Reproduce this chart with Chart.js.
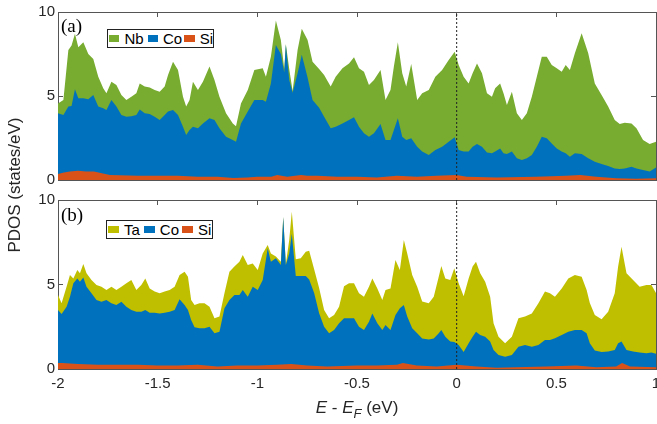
<!DOCTYPE html>
<html lang="en">
<head>
<meta charset="UTF-8">
<title>PDOS</title>
<script src="https://cdn.jsdelivr.net/npm/chart.js"></script>
<style>
  body { margin: 0; background: #fff; font-family: "Liberation Sans", Arial, sans-serif; }
  #wrap { position: relative; width: 657px; height: 424px; overflow: hidden; }
  canvas { position: absolute; left: 0; top: 0; }
  .panel { position: absolute; font-family: "Liberation Serif", serif; font-size: 19px; line-height: 19px; color: #000; }
  .legend { position: absolute; box-sizing: border-box; height: 19px; border: 1px solid #222; background: #fff;
            font-size: 15px; color: #000; display: flex; align-items: center; padding-left: 1px; }
  .sw { display: inline-block; width: 11px; height: 7px; margin-right: 5px; }
  #ytitle { position: absolute; left: -85px; top: 175px; width: 200px; height: 20px; line-height: 20px;
            text-align: center; font-size: 17px; color: #262626; transform: rotate(-90deg); }
  #xtitle { position: absolute; left: 257px; top: 398px; width: 200px; height: 20px; line-height: 20px;
            text-align: center; font-size: 17px; color: #262626; }
  #xtitle sub { font-size: 13px; font-style: italic; vertical-align: -5px; }
</style>
</head>
<body>
<div id="wrap">
  <canvas id="chartA" width="657" height="424"></canvas>
  <canvas id="chartB" width="657" height="424"></canvas>
  <div class="panel" style="left:61px;top:16px">(a)</div>
  <div class="panel" style="left:61px;top:205px">(b)</div>
  <div class="legend" id="legA" style="left:107px;top:29px;width:107px"></div>
  <div class="legend" id="legB" style="left:106px;top:220px;width:107px"></div>
  <div id="ytitle">PDOS (states/eV)</div>
  <div id="xtitle"><i>E</i> - <i>E</i><sub>F</sub> (eV)</div>
</div>

<script>
// ---- panel (a): NbCoSi, cumulative edges of the stacked areas ----
const energyA = [
  -2.0, -1.973, -1.948, -1.932, -1.915, -1.898, -1.873, -1.848, -1.823, -1.798,
  -1.773, -1.757, -1.732, -1.707, -1.682, -1.657, -1.632, -1.607, -1.59, -1.565,
  -1.54, -1.515, -1.49, -1.465, -1.448, -1.423, -1.398, -1.373, -1.357, -1.34,
  -1.323, -1.298, -1.273, -1.24, -1.215, -1.19, -1.157, -1.123, -1.107, -1.082,
  -1.048, -1.015, -0.973, -0.957, -0.932, -0.907, -0.882, -0.865, -0.857, -0.84,
  -0.823, -0.798, -0.777, -0.748, -0.723, -0.69, -0.665, -0.632, -0.607, -0.573,
  -0.54, -0.515, -0.49, -0.465, -0.44, -0.415, -0.382, -0.357, -0.332, -0.315,
  -0.295, -0.273, -0.253, -0.228, -0.198, -0.173, -0.14, -0.107, -0.073, -0.04,
  -0.01, 0.01, 0.035, 0.06, 0.08, 0.102, 0.127, 0.152, 0.177, 0.193,
  0.218, 0.235, 0.252, 0.277, 0.302, 0.327, 0.352, 0.377, 0.402, 0.427,
  0.452, 0.477, 0.502, 0.527, 0.547, 0.568, 0.593, 0.627, 0.66, 0.693,
  0.727, 0.76, 0.793, 0.818, 0.843, 0.877, 0.902, 0.935, 0.968, 1.0
];
// top of the whole stack (Si + Co + Nb)
const totalA = [
  4.56, 4.76, 7.74, 8.0, 8.7, 7.9, 8.2, 7.5, 7.2, 6.15,
  5.46, 5.16, 5.85, 5.65, 5.06, 4.76, 4.96, 5.16, 5.75, 5.56,
  5.5, 5.36, 5.26, 5.56, 6.25, 7.04, 6.55, 4.96, 4.37, 4.76,
  5.85, 5.36, 5.85, 6.75, 5.95, 4.96, 3.97, 3.37, 3.2, 4.56,
  5.36, 6.55, 6.65, 6.15, 7.34, 9.5, 8.33, 6.6, 8.1, 6.6,
  5.3, 7.74, 9.0, 8.33, 7.04, 6.6, 6.25, 5.56, 6.15, 6.65,
  6.94, 7.3, 6.65, 6.45, 5.65, 5.95, 6.55, 4.76, 5.36, 6.75,
  8.2, 6.35, 5.56, 6.9, 4.76, 5.16, 5.36, 6.15, 6.55, 7.14,
  7.64, 6.85, 6.15, 5.75, 6.35, 6.94, 6.35, 5.16, 4.96, 5.46,
  5.75, 5.16, 4.46, 5.26, 3.97, 3.57, 3.97, 4.96, 6.15, 7.34,
  7.34, 6.85, 6.65, 6.45, 6.85, 6.55, 7.54, 8.73, 7.54, 5.75,
  5.06, 4.37, 3.57, 3.33, 3.41, 3.37, 3.08, 2.38, 2.14, 2.28
];
// top of Si + Co
const coTopA = [
  3.97, 3.87, 4.37, 4.4, 5.4, 4.86, 4.86, 4.8, 5.06, 4.37,
  4.27, 4.17, 4.76, 4.37, 3.87, 3.77, 3.8, 3.87, 4.2, 3.97,
  3.93, 3.77, 3.57, 3.87, 4.07, 4.17, 3.87, 3.17, 2.68, 2.98,
  3.17, 3.08, 3.37, 3.67, 3.57, 3.08, 2.58, 2.38, 2.28, 3.37,
  4.07, 4.76, 4.76, 4.66, 5.75, 8.04, 7.5, 6.4, 8.05, 5.95,
  5.2, 6.35, 7.46, 6.1, 4.76, 4.3, 3.77, 3.08, 3.17, 3.37,
  3.57, 3.73, 3.17, 2.78, 2.58, 2.78, 3.33, 2.38, 2.38, 2.98,
  3.67, 2.58, 2.38, 2.48, 1.98, 1.69, 1.49, 1.79, 1.98, 2.28,
  2.54, 1.79, 1.69, 1.69, 1.98, 2.14, 1.98, 1.63, 1.59, 1.69,
  1.88, 1.59, 1.55, 1.69, 1.29, 1.19, 1.29, 1.49, 1.98, 2.58,
  2.48, 2.18, 1.88, 1.69, 1.59, 1.39, 1.59, 1.55, 1.29, 1.09,
  0.95, 0.83, 0.69, 0.65, 0.69, 0.79, 0.69, 0.6, 0.5, 0.75
];
const siEnergyA = [-2.0, -1.97, -1.94, -1.9, -1.86, -1.82, -1.78, -1.74, -1.6, -1.5, -1.4, -1.3, -1.2, -1.12,
  -1.05, -1.0, -0.93, -0.9, -0.85, -0.78, -0.75, -0.7, -0.6, -0.5, -0.4, -0.3, -0.2, -0.1, 0.0, 0.05,
  0.2, 0.4, 0.55, 0.62, 0.7, 0.8, 0.9, 1.0];
const siA = [0.35, 0.45, 0.5, 0.55, 0.5, 0.5, 0.4, 0.3, 0.25, 0.25, 0.25, 0.2, 0.2, 0.12,
  0.15, 0.2, 0.2, 0.3, 0.2, 0.3, 0.25, 0.25, 0.2, 0.2, 0.15, 0.25, 0.2, 0.25, 0.3, 0.2,
  0.15, 0.2, 0.25, 0.3, 0.2, 0.1, 0.08, 0.1];

// ---- panel (b): TaCoSi ----
const energyB = [
  -2.0, -1.982, -1.957, -1.94, -1.923, -1.903, -1.89, -1.873, -1.857, -1.832,
  -1.807, -1.782, -1.757, -1.732, -1.707, -1.682, -1.657, -1.632, -1.607, -1.582,
  -1.562, -1.54, -1.515, -1.49, -1.465, -1.44, -1.415, -1.39, -1.365, -1.348,
  -1.332, -1.315, -1.29, -1.265, -1.24, -1.215, -1.19, -1.165, -1.14, -1.115,
  -1.09, -1.073, -1.048, -1.023, -0.998, -0.973, -0.948, -0.932, -0.907, -0.882,
  -0.87, -0.857, -0.84, -0.827, -0.807, -0.782, -0.757, -0.74, -0.715, -0.69,
  -0.665, -0.64, -0.615, -0.59, -0.565, -0.54, -0.515, -0.49, -0.465, -0.44,
  -0.423, -0.398, -0.373, -0.357, -0.332, -0.307, -0.285, -0.265, -0.248, -0.223,
  -0.198, -0.173, -0.14, -0.115, -0.09, -0.077, -0.057, -0.032, -0.012, 0.01,
  0.035, 0.06, 0.08, 0.097, 0.118, 0.143, 0.168, 0.185, 0.21, 0.243,
  0.277, 0.31, 0.343, 0.377, 0.41, 0.443, 0.468, 0.493, 0.527, 0.56,
  0.593, 0.627, 0.652, 0.668, 0.693, 0.727, 0.76, 0.793, 0.81, 0.827,
  0.852, 0.885, 0.918, 0.952, 0.977, 1.0
];
const totalB = [
  4.38, 3.89, 4.87, 5.56, 5.36, 5.86, 5.66, 6.21, 5.66, 5.27,
  4.97, 4.87, 4.67, 4.87, 4.67, 4.87, 5.07, 5.27, 4.67, 4.97,
  5.36, 4.77, 4.58, 4.48, 4.58, 4.67, 4.87, 5.56, 5.76, 5.46,
  4.08, 3.79, 3.89, 3.89, 3.69, 3.0, 3.1, 4.48, 5.76, 6.06,
  6.35, 6.75, 6.15, 6.25, 5.86, 6.84, 7.34, 6.84, 6.65, 6.35,
  9.0, 6.2, 7.63, 9.3, 6.5, 6.55, 6.94, 7.0, 5.9, 4.8,
  3.49, 3.0, 3.2, 3.69, 4.9, 5.07, 5.07, 4.48, 4.28, 4.87,
  5.36, 4.77, 4.08, 4.67, 4.77, 6.45, 5.86, 7.63, 6.84, 5.56,
  4.87, 4.0, 3.89, 4.28, 5.46, 6.09, 5.36, 5.27, 5.96, 5.07,
  4.3, 5.36, 6.06, 6.35, 5.66, 5.17, 4.28, 2.7, 1.91, 1.52,
  1.91, 3.0, 3.1, 3.29, 3.89, 4.58, 4.48, 4.28, 4.77, 5.36,
  5.56, 5.46, 4.67, 3.9, 3.2, 2.95, 3.39, 4.48, 6.06, 7.24,
  5.66, 5.27, 4.87, 4.97, 4.97, 4.5
];
const coTopB = [
  3.49, 3.25, 3.69, 4.28, 5.07, 5.36, 5.17, 5.42, 4.87, 4.48,
  4.08, 3.98, 4.08, 3.89, 3.79, 3.98, 3.69, 3.49, 3.39, 3.39,
  3.49, 3.33, 3.33, 3.29, 3.33, 3.39, 3.49, 4.12, 3.79, 3.49,
  2.9, 2.47, 2.41, 2.41, 2.5, 2.11, 2.21, 3.59, 4.08, 4.38,
  4.38, 4.67, 4.28, 4.87, 4.67, 5.27, 7.14, 6.35, 6.55, 6.15,
  9.0, 6.15, 6.84, 8.0, 5.5, 5.5, 5.5, 5.3, 4.5, 3.3,
  2.5, 2.11, 2.31, 2.7, 3.0, 3.0, 3.0, 2.5, 2.31, 2.8,
  3.29, 2.7, 2.31, 2.6, 2.31, 3.2, 3.59, 3.79, 3.1, 2.41,
  2.11, 1.8, 1.75, 1.8, 2.11, 2.31, 1.91, 1.62, 1.6, 1.42,
  1.0, 1.52, 1.91, 2.21, 2.01, 1.91, 1.62, 1.12, 0.83, 0.73,
  0.83, 1.32, 1.42, 1.32, 1.42, 1.72, 1.72, 1.82, 2.01, 2.21,
  2.31, 2.31, 2.11, 1.52, 1.1, 1.0, 1.03, 1.12, 1.52, 1.62,
  1.12, 1.03, 0.97, 0.93, 0.97, 0.9
];
const siEnergyB = [-2.0, -1.98, -1.9, -1.8, -1.7, -1.6, -1.5, -1.4, -1.3, -1.2, -1.1, -1.0, -0.9, -0.83,
  -0.75, -0.65, -0.5, -0.4, -0.3, -0.27, -0.2, -0.1, 0.0, 0.1, 0.2, 0.3, 0.45, 0.6, 0.7, 0.8,
  0.83, 0.87, 1.0];
const siB = [0.35, 0.35, 0.3, 0.25, 0.25, 0.25, 0.2, 0.2, 0.25, 0.15, 0.2, 0.2, 0.25, 0.3,
  0.2, 0.15, 0.2, 0.2, 0.25, 0.35, 0.2, 0.15, 0.25, 0.15, 0.08, 0.1, 0.15, 0.2, 0.1, 0.15,
  0.35, 0.15, 0.1];

const fermiLevel = 0;
const xTicks = { min: -2, max: 1, step: 0.5 };
const yTicks = { min: 0, max: 10, step: 5 };

const labelsA = ['Nb', 'Co', 'Si'];
const labelsB = ['Ta', 'Co', 'Si'];
const colorsA = ['#77AC30', '#0072BD', '#D95319'];
const colorsB = ['#BFBF00', '#0072BD', '#D95319'];

const FONT = '"Liberation Sans", Arial, sans-serif';
const AXIS = '#555';

function pts(xs, ys) {
  return xs.map((x, i) => ({ x: x, y: ys[i] }));
}

function area(label, xs, ys, color) {
  return {
    label: label,
    data: pts(xs, ys),
    backgroundColor: color,
    borderColor: color,
    borderWidth: 0,
    pointRadius: 0,
    fill: 'origin',
    tension: 0
  };
}

function fermiLine() {
  return {
    label: 'EF',
    data: [{ x: fermiLevel, y: yTicks.min }, { x: fermiLevel, y: yTicks.max }],
    borderColor: '#222',
    borderWidth: 1,
    borderDash: [2, 2],
    pointRadius: 0,
    fill: false
  };
}

// MATLAB style numbers: -2, -1.5, 0, 0.5, 1
const plainNum = v => String(Math.round(v * 10) / 10);

function makeChart(id, series, showX, padTop, padBottom, xHeight) {
  const boxAxis = (extra) => Object.assign({
    grid: { drawOnChartArea: false, tickLength: -5, color: AXIS },
    border: { color: AXIS, width: 1 }
  }, extra);
  // the box is fixed in place: no extra room for overhanging end labels
  const fixedBox = (s, w, h) => {
    if (w !== null) s.width = w;
    if (h !== null) s.height = h;
    s.paddingLeft = 0; s.paddingRight = 0; s.paddingTop = 0; s.paddingBottom = 0;
  };

  return new Chart(document.getElementById(id), {
    type: 'line',
    data: { datasets: series },
    options: {
      responsive: false,
      animation: false,
      layout: { autoPadding: false, padding: { top: padTop, bottom: padBottom, left: 0, right: 1 } },
      plugins: { legend: { display: false }, tooltip: { enabled: false } },
      scales: {
        x: boxAxis({
          type: 'linear', position: 'bottom', min: xTicks.min, max: xTicks.max,
          ticks: { stepSize: xTicks.step, display: showX, padding: 11, color: '#262626',
                   maxRotation: 0, autoSkip: false, callback: plainNum,
                   font: { family: FONT, size: 15 } },
          afterFit: s => fixedBox(s, null, xHeight)
        }),
        x2: boxAxis({
          type: 'linear', position: 'top', min: xTicks.min, max: xTicks.max,
          ticks: { stepSize: xTicks.step, display: false },
          afterFit: s => fixedBox(s, null, 0)
        }),
        y: boxAxis({
          type: 'linear', position: 'left', min: yTicks.min, max: yTicks.max,
          ticks: { stepSize: yTicks.step, padding: 8, color: '#262626', callback: plainNum,
                   font: { family: FONT, size: 15 } },
          afterFit: s => fixedBox(s, 58, null)
        }),
        y2: boxAxis({
          type: 'linear', position: 'right', min: yTicks.min, max: yTicks.max,
          ticks: { stepSize: yTicks.step, display: false },
          afterFit: s => fixedBox(s, 0, null)
        })
      }
    }
  });
}

// datasets listed top-drawn first: dashed line, Si, Co, then the total behind
makeChart('chartA', [
  fermiLine(),
  area(labelsA[2], siEnergyA, siA, colorsA[2]),
  area(labelsA[1], energyA, coTopA, colorsA[1]),
  area(labelsA[0], energyA, totalA, colorsA[0])
], false, 12, 244, 0);

makeChart('chartB', [
  fermiLine(),
  area(labelsB[2], siEnergyB, siB, colorsB[2]),
  area(labelsB[1], energyB, coTopB, colorsB[1]),
  area(labelsB[0], energyB, totalB, colorsB[0])
], true, 200, 0, 55);

// legends inside the axes, MATLAB style
function fillLegend(id, labels, colors, gaps) {
  const box = document.getElementById(id);
  labels.forEach((lab, i) => {
    const sw = document.createElement('span');
    sw.className = 'sw';
    sw.style.background = colors[i];
    if (i > 0) sw.style.marginLeft = gaps[i - 1] + 'px';
    const tx = document.createElement('span');
    tx.textContent = lab;
    box.appendChild(sw);
    box.appendChild(tx);
  });
}
fillLegend('legA', labelsA, colorsA, [4, 2]);
fillLegend('legB', labelsB, colorsB, [4, 3]);
</script>
</body>
</html>
